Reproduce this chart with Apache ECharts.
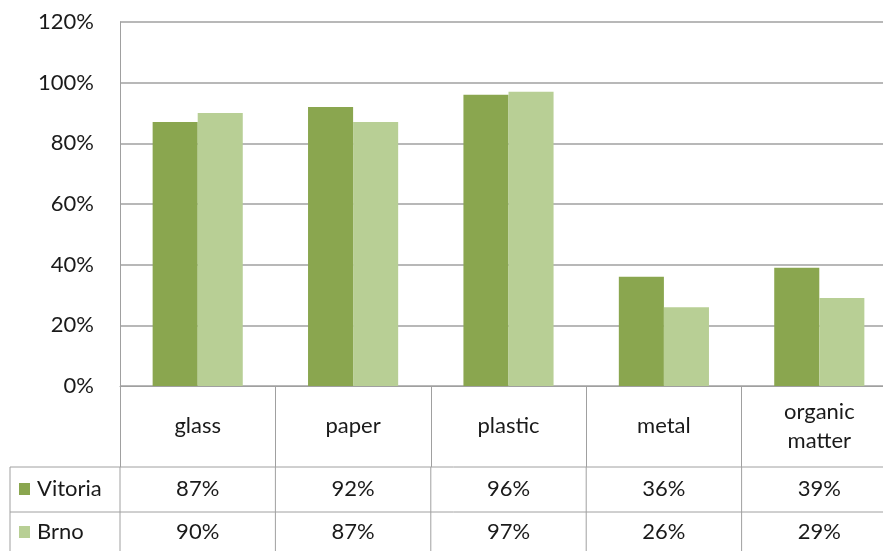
<!DOCTYPE html>
<html>
<head>
<meta charset="utf-8">
<script src="https://cdn.jsdelivr.net/npm/echarts@6/dist/echarts.min.js"></script>
<style>
html,body{margin:0;padding:0;background:#fff;overflow:hidden;width:883px;height:551px;}
#c{width:897px;height:551px;}
</style>
</head>
<body>
<div id="c"></div>
<script>
const categories = ['glass', 'paper', 'plastic', 'metal', 'organic\nmatter'];
const seriesNames = ['Vitoria', 'Brno'];
const vitoria = [87, 92, 96, 36, 39];
const brno = [90, 87, 97, 26, 29];
const yTicks = [0, 20, 40, 60, 80, 100, 120];
const colors = ['#8AA64F', '#B8CF95'];

const FONT = 'Lato';
const FS = 22;
const LINE = '#A0A0A0';
const TXT = '#1a1a1a';
const chart = echarts.init(document.getElementById('c'), null, {renderer: 'canvas'});

const option = {
  animation: false,
  backgroundColor: '#fff',
  grid: {left: 120, top: 22, right: 0, height: 364, containLabel: false},
  xAxis: {
    type: 'category',
    data: categories,
    axisLine: {show: true, lineStyle: {color: LINE, width: 1}},
    axisTick: {show: true, length: 81, interval: 0, alignWithLabel: false, lineStyle: {color: LINE, width: 1}},
    axisLabel: {show: true, interval: 0, margin: 40, fontFamily: FONT, fontSize: FS, color: TXT, lineHeight: 29, verticalAlign: 'middle'},
    splitLine: {show: false}
  },
  yAxis: {
    type: 'value',
    min: yTicks[0],
    max: yTicks[yTicks.length - 1],
    interval: yTicks[1] - yTicks[0],
    axisLine: {show: true, lineStyle: {color: LINE, width: 1}},
    axisTick: {show: false},
    axisLabel: {formatter: '{value}%', margin: 26, fontFamily: FONT, fontSize: FS, color: TXT},
    splitLine: {show: true, lineStyle: {color: LINE, width: 1.5}}
  },
  series: [
    {name: seriesNames[0], type: 'bar', data: vitoria, barGap: '0%', barCategoryGap: '42%', itemStyle: {color: colors[0]}},
    {name: seriesNames[1], type: 'bar', data: brno, barGap: '0%', barCategoryGap: '42%', itemStyle: {color: colors[1]}}
  ]
};
chart.setOption(option);

// Data table below the chart, positioned from the axis scale
function buildTable() {
  const rows = [vitoria, brno];
  const tableTop = 467, tableLeft = 10, right = 897, bottom = 551;
  const els = [];
  const line = (x1, y1, x2, y2) => els.push({type: 'line', shape: {x1, y1, x2, y2}, style: {stroke: LINE, lineWidth: 1}, silent: true});
  const x0 = chart.convertToPixel({xAxisIndex: 0}, categories[0]);
  const x1 = chart.convertToPixel({xAxisIndex: 0}, categories[1]);
  const bw = x1 - x0;
  line(tableLeft, tableTop, right, tableTop);
  line(tableLeft, tableTop + 45, right, tableTop + 45);
  line(tableLeft, tableTop, tableLeft, bottom);
  for (let i = 0; i < categories.length; i++) {
    const bx = chart.convertToPixel({xAxisIndex: 0}, categories[i]) - bw / 2;
    line(bx, tableTop, bx, bottom);
  }
  rows.forEach((vals, r) => {
    const cy = tableTop + 22 + r * 43;
    els.push({type: 'rect', shape: {x: 19, y: cy - 6, width: 11, height: 12}, style: {fill: colors[r]}, silent: true});
    els.push({type: 'text', x: 37, y: cy, style: {text: seriesNames[r], font: FS + 'px ' + FONT, fill: TXT, verticalAlign: 'middle', textVerticalAlign: 'middle'}, silent: true});
    vals.forEach((v, i) => {
      const cx = chart.convertToPixel({xAxisIndex: 0}, categories[i]);
      els.push({type: 'text', x: cx, y: cy, style: {text: v + '%', font: FS + 'px ' + FONT, fill: TXT, align: 'center', textAlign: 'center', verticalAlign: 'middle', textVerticalAlign: 'middle'}, silent: true});
    });
  });
  chart.setOption({graphic: {elements: els}});
}
buildTable();
</script>
</body>
</html>
